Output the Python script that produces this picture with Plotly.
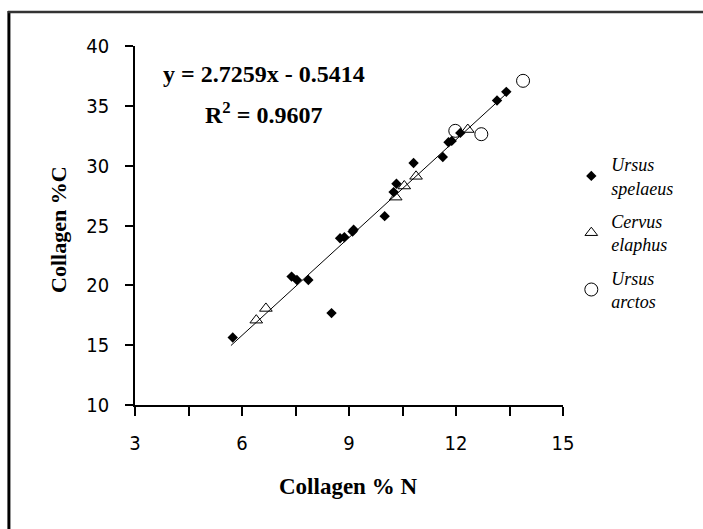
import plotly.graph_objects as go

# Data
spelaeus_x = [5.74, 7.39, 7.54, 7.86, 8.51, 8.75, 8.87, 9.10, 9.13, 10.00, 10.25, 10.33, 10.81, 11.63, 11.79, 11.88, 12.12, 13.15, 13.41]
spelaeus_y = [15.64, 20.73, 20.45, 20.45, 17.68, 23.94, 24.02, 24.50, 24.64, 25.78, 27.79, 28.49, 30.22, 30.73, 31.96, 32.07, 32.74, 35.45, 36.17]
cervus_x = [6.40, 6.67, 10.31, 10.55, 10.88, 12.33]
cervus_y = [17.09, 18.07, 27.37, 28.30, 29.11, 33.02]
arctos_x = [11.98, 12.71, 13.88]
arctos_y = [32.91, 32.63, 37.09]
slope, intercept = 2.7259, -0.5414
r2 = 0.9607

xmin, xmax = min(spelaeus_x) - 0.05, max(spelaeus_x) + 0.05
line_x = [xmin, xmax]
line_y = [slope * v + intercept for v in line_x]

fig = go.Figure()
fig.add_trace(go.Scatter(x=line_x, y=line_y, mode="lines", line=dict(color="black", width=1),
                         showlegend=False, hoverinfo="skip"))
fig.add_trace(go.Scatter(x=spelaeus_x, y=spelaeus_y, mode="markers", name="Ursus<br>spelaeus",
                         legendgroup="a",
                         marker=dict(symbol="diamond", size=8, color="black")))
fig.add_trace(go.Scatter(x=cervus_x, y=cervus_y, mode="markers", name="Cervus<br>elaphus",
                         legendgroup="b",
                         marker=dict(symbol="triangle-up-open", size=11, color="black", line=dict(width=1))))
fig.add_trace(go.Scatter(x=arctos_x, y=arctos_y, mode="markers", name="Ursus<br>arctos",
                         legendgroup="c",
                         marker=dict(symbol="circle-open", size=13, color="black", line=dict(width=1))))

L, R, T, B = 135, 140.3, 46, 124
W, H = 703, 529
pw, ph = W - L - R, H - T - B

def px(x):
    return (x - L) / pw

def py(y):
    return (H - B - y) / ph

tickfont = dict(family="Liberation Sans Narrow, DejaVu Sans Condensed, Arial Narrow, sans-serif",
                size=20, color="black")

def ann(text, x, y, size, angle=0):
    return dict(text=text, x=px(x), y=py(y), xref="paper", yref="paper", xanchor="center",
                yanchor="middle", showarrow=False, textangle=angle,
                font=dict(family="Liberation Serif", size=size, color="black"))

fig.update_layout(
    width=W, height=H,
    margin=dict(l=L, r=R, t=T, b=B, autoexpand=False),
    paper_bgcolor="white", plot_bgcolor="white",
    showlegend=True,
    legend=dict(x=px(571), y=py(146), xanchor="left", yanchor="top",
                font=dict(family="Liberation Serif", size=18, color="black", style="italic"),
                tracegroupgap=7, bgcolor="rgba(0,0,0,0)"),
    xaxis=dict(range=[3, 15], tickvals=[3, 6, 9, 12, 15], ticks="outside", ticklen=9, tickwidth=1.5,
               tickcolor="black", showline=True, linecolor="black", linewidth=1.5, showgrid=False,
               zeroline=False, ticklabelstandoff=10,
               minor=dict(tickvals=[4.5, 7.5, 10.5, 13.5], ticks="outside", ticklen=9, tickwidth=1.5,
                          tickcolor="black", showgrid=False),
               tickfont=tickfont),
    yaxis=dict(range=[10, 40], tickvals=[10, 15, 20, 25, 30, 35, 40], ticks="outside", ticklen=8,
               tickwidth=1.5, tickcolor="black", showline=True, linecolor="black", linewidth=1.5,
               showgrid=False, zeroline=False, ticklabelstandoff=12,
               tickfont=tickfont),
    annotations=[
        ann("<b>Collagen % N</b>", 348, 486, 23),
        ann("<b>Collagen %C</b>", 58, 229, 22, -90),
        ann(f"<b>y = {slope}x - {abs(intercept)}</b>", 264, 74, 24),
        ann(f"<b>R<sup>2</sup> = {r2}</b>", 263, 113, 24),
    ],
    shapes=[
        dict(type="line", xref="paper", yref="paper", x0=px(9), x1=px(9), y0=py(11), y1=py(545),
             line=dict(color="black", width=3), layer="above"),
        dict(type="line", xref="paper", yref="paper", x0=px(8), x1=px(720), y0=py(12), y1=py(12),
             line=dict(color="#333333", width=2.5), layer="above"),
    ],
)

fig.write_html("out.html")
